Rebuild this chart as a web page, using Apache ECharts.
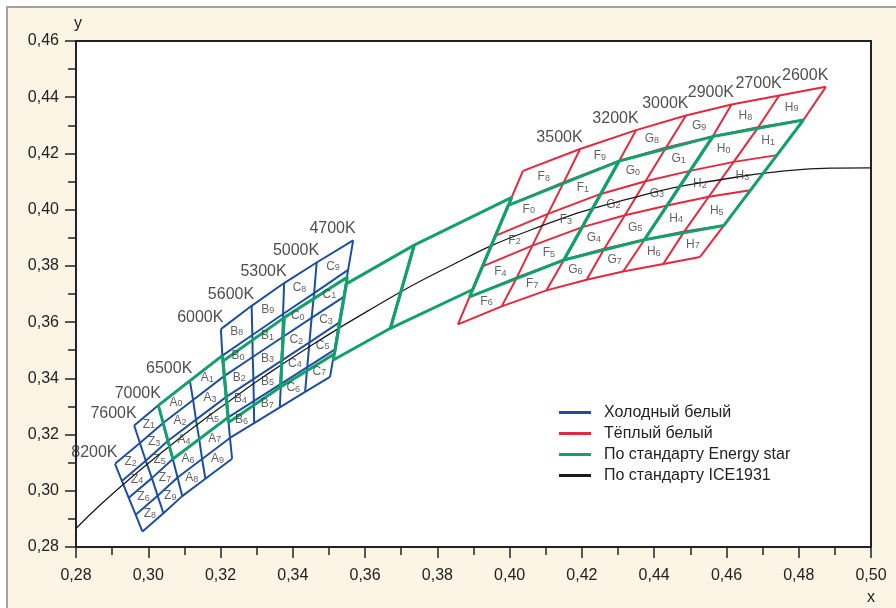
<!DOCTYPE html>
<html><head><meta charset="utf-8">
<script src="https://cdn.jsdelivr.net/npm/echarts@6/dist/echarts.min.js"></script>
<style>
html,body{margin:0;padding:0;background:#fff;width:896px;height:608px;overflow:hidden;}
#panel{position:absolute;left:6px;top:6px;right:0;bottom:0;background:#fcf4e4;border-left:2px solid #a2a2a2;border-top:2px solid #a2a2a2;}
#chart{position:absolute;left:0;top:0;width:896px;height:608px;}
</style></head><body><div id="panel"></div><div id="chart"></div>
<script>
// ---------- axis ranges ----------
const xMin = 0.28, xMax = 0.50, xStep = 0.02;
const yMin = 0.28, yMax = 0.46, yStep = 0.02;

// ---------- cool white bins: isotherm lattice points (rows top→bottom, null = absent) ----------
const cool8200 = [null, null, [0.2908,0.3096],[0.2927,0.3035],[0.2946,0.2975],[0.2965,0.2915],[0.2984,0.2855]];
const cool7600 = [null, [0.2961,0.3232],[0.2977,0.3170],[0.2993,0.3107],[0.3010,0.3045],[0.3026,0.2982],[0.3042,0.2920]];
const cool7000 = [null, [0.3028,0.3304],[0.3041,0.3241],[0.3054,0.3177],[0.3068,0.3113],[0.3081,0.3047],[0.3094,0.2981]];
const cool6500 = [null, [0.3115,0.3392],[0.3124,0.3323],[0.3132,0.3253],[0.3141,0.3184],[0.3149,0.3113],[0.3158,0.3043]];
const cool6000 = [[0.3201,0.3575],[0.3205,0.3481],[0.3210,0.3408],[0.3216,0.3334],[0.3221,0.3261],[0.3226,0.3188],[0.3232,0.3114]];
const cool5600 = [[0.3286,0.3658],[0.3288,0.3554],[0.3289,0.3476],[0.3291,0.3397],[0.3292,0.3319],[0.3293,0.3241], null];
const cool5300 = [[0.3376,0.3739],[0.3373,0.3629],[0.3371,0.3546],[0.3369,0.3463],[0.3367,0.3380],[0.3364,0.3297], null];
const cool5000 = [[0.3466,0.3812],[0.3459,0.3703],[0.3452,0.3615],[0.3446,0.3528],[0.3440,0.3440],[0.3434,0.3352], null];
const cool4700 = [[0.3567,0.3891],[0.3553,0.3786],[0.3541,0.3690],[0.3528,0.3598],[0.3516,0.3502],[0.3503,0.3405], null];
const coolTempLabels = ['8200K','7600K','7000K','6500K','6000K','5600K','5300K','5000K','4700K'];
const coolCellNames = [
  ['Z2','Z4','Z6','Z8'],
  ['Z1','Z3','Z5','Z7','Z9'],
  ['A0','A2','A4','A6','A8'],
  ['A1','A3','A5','A7','A9'],
  ['B8','B0','B2','B4','B6'],
  ['B9','B1','B3','B5','B7'],
  ['C8','C0','C2','C4','C6'],
  ['C9','C1','C3','C5','C7']
];

// ---------- warm white bins ----------
const warmF0 = [[0.4037,0.4138],[0.3996,0.4015],[0.3960,0.3907],[0.3925,0.3798],[0.3889,0.3690],[0.3857,0.3592]];
const warmF1 = [[0.4195,0.4216],[0.4150,0.4098],[0.4106,0.3985],[0.4063,0.3872],[0.4020,0.3759],[0.3978,0.3656]];
const warmG0 = [[0.4350,0.4283],[0.4303,0.4173],[0.4252,0.4056],[0.4201,0.3938],[0.4150,0.3821],[0.4102,0.3713]];
const warmG1 = [[0.4488,0.4335],[0.4433,0.4221],[0.4376,0.4101],[0.4319,0.3980],[0.4262,0.3861],[0.4213,0.3751]];
const warmH0 = [[0.4614,0.4374],[0.4562,0.4260],[0.4499,0.4138],[0.4436,0.4015],[0.4373,0.3893],[0.4314,0.3780]];
const warmH1 = [[0.4746,0.4406],[0.4688,0.4293],[0.4620,0.4170],[0.4551,0.4046],[0.4483,0.3922],[0.4425,0.3807]];
const warmH2 = [[0.4875,0.4437],[0.4813,0.4319],[0.4740,0.4194],[0.4666,0.4069],[0.4593,0.3944],[0.4527,0.3832]];
const warmTempLabels = ['', '3500K','3200K','3000K','2900K','2700K','2600K'];
const warmCellNames = [
  ['F8','F0','F2','F4','F6'],
  ['F9','F1','F3','F5','F7'],
  ['G8','G0','G2','G4','G6'],
  ['G9','G1','G3','G5','G7'],
  ['H8','H0','H2','H4','H6'],
  ['H9','H1','H3','H5','H7']
];

// ---------- Energy Star (ANSI C78.377) quadrangles: TL, TR, BR, BL ----------
const q6500 = [[0.3028,0.3304],[0.3205,0.3481],[0.3221,0.3261],[0.3068,0.3113]];
const q5700 = [[0.3207,0.3462],[0.3376,0.3616],[0.3366,0.3369],[0.3222,0.3243]];
const q5000 = [[0.3376,0.3616],[0.3551,0.3760],[0.3515,0.3487],[0.3366,0.3369]];
const q4500 = [[0.3548,0.3736],[0.3736,0.3874],[0.3670,0.3578],[0.3512,0.3465]];
const q4000 = [[0.3736,0.3874],[0.4006,0.4044],[0.3898,0.3716],[0.3670,0.3578]];
const q3500 = [[0.3996,0.4015],[0.4303,0.4173],[0.4150,0.3821],[0.3889,0.3690]];
const q3000 = [[0.4303,0.4173],[0.4562,0.4260],[0.4373,0.3893],[0.4150,0.3821]];
const q2700 = [[0.4562,0.4260],[0.4813,0.4319],[0.4593,0.3944],[0.4373,0.3893]];

// ---------- black-body locus ----------
const locusX = [0.2800,0.2869,0.2952,0.3064,0.3135,0.3221,0.3325,0.3451,0.3608,0.3805,0.4053,0.4369,0.4599,0.4770,0.4900,0.5000];
const locusY = [0.2866,0.2952,0.3046,0.3164,0.3235,0.3316,0.3411,0.3517,0.3640,0.3780,0.3925,0.4052,0.4110,0.4139,0.4148,0.4149];

const legendNames = ['Холодный белый','Тёплый белый','По стандарту Energy star','По стандарту ICE1931'];

// ---------- styling ----------
const BLUE = '#1d4f9f', RED = '#e5283e', GREEN = '#14a06c', BLACK = '#1a1a1a';
function hasFont(f){
  const c = document.createElement('canvas').getContext('2d');
  const s = '0,46 Холодный белый';
  c.font = '40px monospace'; const a = c.measureText(s).width;
  c.font = '40px "' + f + '", monospace'; const b = c.measureText(s).width;
  return Math.abs(a - b) > 0.5;
}
const narrow = hasFont('Liberation Sans Narrow');
const tickFont = narrow ? {fontFamily:'"Liberation Sans Narrow"', fontSize:19} : {fontFamily:'"Liberation Sans", Arial, sans-serif', fontSize:16};
const legendFont = narrow ? {fontFamily:'"Liberation Sans Narrow"', fontSize:18} : {fontFamily:'"Liberation Sans", Arial, sans-serif', fontSize:16};
const REG = '"Liberation Sans", Arial, sans-serif';

function lineSeries(name, pts, color, width, z, smooth){
  return {type:'line', name:name, data:pts, symbol:'none', showSymbol:false, smooth:!!smooth,
    lineStyle:{color:color, width:width}, itemStyle:{color:color}, z:z, silent:true, animation:false};
}
function latticeSeries(isos, name, color, width, z){
  const out = [];
  isos.forEach(iso => { const pts = iso.filter(p => p); if (pts.length > 1) out.push(lineSeries(name, pts, color, width, z)); });
  const nRows = Math.max.apply(null, isos.map(a => a.length));
  for (let r = 0; r < nRows; r++){
    let run = [];
    for (let k = 0; k < isos.length; k++){
      const p = isos[k][r];
      if (p) run.push(p);
      else { if (run.length > 1) out.push(lineSeries(name, run, color, width, z)); run = []; }
    }
    if (run.length > 1) out.push(lineSeries(name, run, color, width, z));
  }
  return out;
}
function cellCenters(isos, names){
  const out = [];
  for (let k = 0; k < isos.length - 1; k++){
    const a = isos[k], b = isos[k+1]; let n = 0;
    for (let r = 0; r < a.length - 1; r++){
      if (a[r] && a[r+1] && b[r] && b[r+1] && names[k][n] !== undefined){
        const cx = (a[r][0] + a[r+1][0] + b[r][0] + b[r+1][0]) / 4;
        const cy = (a[r][1] + a[r+1][1] + b[r][1] + b[r+1][1]) / 4;
        out.push({value:[cx, cy], name:names[k][n]}); n++;
      }
    }
  }
  return out;
}
function tempPoints(isos, labels){
  const out = [];
  isos.forEach((iso, i) => { const p = iso.find(q => q); if (labels[i]) out.push({value:p, name:labels[i]}); });
  return out;
}

const coolIsos = [cool8200, cool7600, cool7000, cool6500, cool6000, cool5600, cool5300, cool5000, cool4700];
const warmIsos = [warmF0, warmF1, warmG0, warmG1, warmH0, warmH1, warmH2];
const quads = [q6500, q5700, q5000, q4500, q4000, q3500, q3000, q2700];

const series = [];
series.push(...latticeSeries(coolIsos, legendNames[0], BLUE, 2, 2));
series.push(...latticeSeries(warmIsos, legendNames[1], RED, 2, 2));
series.push(lineSeries(legendNames[3], locusX.map((x, i) => [x, locusY[i]]), BLACK, 1.3, 3, 0.3));
quads.forEach(q => series.push(lineSeries(legendNames[2], q.concat([q[0]]), GREEN, 3, 4)));

series.push({type:'scatter', name:'cells', data: cellCenters(coolIsos, coolCellNames).concat(cellCenters(warmIsos, warmCellNames)),
  symbolSize:1, itemStyle:{color:'transparent'}, z:6, silent:true, animation:false,
  label:{show:true, position:'inside', formatter: p => '{m|' + p.name[0] + '}{s|' + p.name.slice(1) + '}',
    rich:{
      m:{fontSize:12, lineHeight:12, padding:[0,0,3,0], verticalAlign:'top', color:'#3a3a3a', fontFamily:REG},
      s:{fontSize:9, lineHeight:9, verticalAlign:'bottom', color:'#3a3a3a', fontFamily:REG}
    }}});
series.push({type:'scatter', name:'temps', data: tempPoints(coolIsos, coolTempLabels).concat(tempPoints(warmIsos, warmTempLabels)),
  symbolSize:1, itemStyle:{color:'transparent'}, z:6, silent:true, animation:false,
  label:{show:true, position:[0,0], align:'right', verticalAlign:'bottom', offset:[3,-3], formatter:'{b}',
    color:'#222', fontSize:16, fontFamily:REG}});

const fmt = v => v.toFixed(2).replace('.', ',');
const axisCommon = {
  type:'value',
  axisLine:{show:true, onZero:false, lineStyle:{color:'#222', width:2}},
  axisTick:{show:true, length:11, lineStyle:{color:'#222', width:1.5}},
  minorTick:{show:true, splitNumber:2, length:8, lineStyle:{color:'#222', width:1.5}},
  splitLine:{show:false}, minorSplitLine:{show:false}
};

const option = {
  animation:false,
  backgroundColor:'transparent',
  grid:{left:76, right:25, top:41, bottom:61, show:true, backgroundColor:'#fff', borderColor:'#222', borderWidth:2},
  xAxis: Object.assign({}, axisCommon, {min:xMin, max:xMax, interval:xStep, name:'x', nameLocation:'end', nameGap:0,
    nameTextStyle:{align:'center', verticalAlign:'top', padding:[43,0,0,0], color:'#222', fontSize:16, fontFamily:tickFont.fontFamily},
    axisLabel:{margin:21, formatter:fmt, color:'#222', fontSize:tickFont.fontSize, fontFamily:tickFont.fontFamily}}),
  yAxis: Object.assign({}, axisCommon, {min:yMin, max:yMax, interval:yStep, name:'y', nameLocation:'end', nameGap:9,
    nameTextStyle:{align:'left', padding:[0,0,0,-2], color:'#222', fontSize:16, fontFamily:tickFont.fontFamily},
    axisLabel:{margin:17, formatter:fmt, color:'#222', fontSize:tickFont.fontSize, fontFamily:tickFont.fontFamily}}),
  legend:{data:legendNames, orient:'vertical', left:554, top:399, icon:'rect', itemWidth:32, itemHeight:3, itemGap:4,
    selectedMode:false, textStyle:{color:'#222', fontSize:legendFont.fontSize, fontFamily:legendFont.fontFamily, lineHeight:17, padding:[0,0,0,8]}},
  series: series
};
const chart = echarts.init(document.getElementById('chart'), null, {renderer:'canvas'});
chart.setOption(option);
</script></body></html>
